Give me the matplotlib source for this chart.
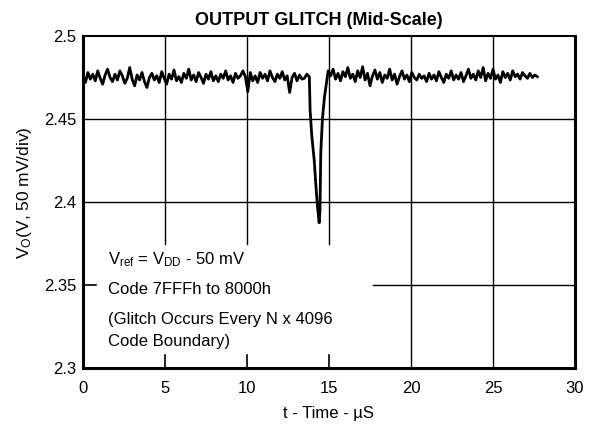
import matplotlib
matplotlib.use("Agg")
import matplotlib.pyplot as plt
import matplotlib.transforms as mtransforms
import numpy as np

plt.rcParams['font.family'] = ['Liberation Sans', 'DejaVu Sans']
plt.rcParams['mathtext.default'] = 'regular'

# trace sampled every 0.15 us before and after the glitch
step = 0.15
pre_v = [
    2.4760, 2.4720, 2.4780, 2.4740, 2.4770, 2.4730, 2.4790, 2.4745, 2.4710, 2.4765,
    2.4800, 2.4750, 2.4725, 2.4770, 2.4735, 2.4790, 2.4760, 2.4715, 2.4745, 2.4810,
    2.4740, 2.4700, 2.4765, 2.4735, 2.4780, 2.4725, 2.4690, 2.4750, 2.4775, 2.4735,
    2.4760, 2.4720, 2.4785, 2.4745, 2.4710, 2.4770, 2.4740, 2.4795, 2.4730, 2.4755,
    2.4720, 2.4775, 2.4745, 2.4800, 2.4735, 2.4765, 2.4725, 2.4780, 2.4750, 2.4715,
    2.4770, 2.4740, 2.4785, 2.4730, 2.4760, 2.4725, 2.4770, 2.4745, 2.4790, 2.4735,
    2.4760, 2.4720, 2.4775, 2.4745, 2.4760, 2.4790, 2.4755, 2.4665, 2.4780, 2.4730,
    2.4760, 2.4720, 2.4780, 2.4745, 2.4770, 2.4730, 2.4790, 2.4750, 2.4725, 2.4770,
    2.4745, 2.4785, 2.4735, 2.4760, 2.4660, 2.4750, 2.4775, 2.4730, 2.4765, 2.4740,
    2.4745, 2.4770, 2.4755,
]
glitch_t = [13.85, 13.95, 14.1, 14.2, 14.3, 14.4, 14.45, 14.5, 14.6, 14.72, 14.85]
glitch_v = [2.4550, 2.4400, 2.4250, 2.4100, 2.3970, 2.3875, 2.3950, 2.4300, 2.4500, 2.4630, 2.4720]
post_start = 14.95
post_v = [
    2.4790, 2.4760, 2.4800, 2.4740, 2.4775, 2.4730, 2.4785, 2.4755, 2.4810, 2.4745,
    2.4770, 2.4725, 2.4790, 2.4750, 2.4815, 2.4735, 2.4775, 2.4700, 2.4760, 2.4795,
    2.4740, 2.4780, 2.4720, 2.4765, 2.4745, 2.4800, 2.4735, 2.4770, 2.4710, 2.4755,
    2.4790, 2.4740, 2.4765, 2.4725, 2.4780, 2.4750, 2.4735, 2.4770, 2.4745, 2.4760,
    2.4725, 2.4775, 2.4740, 2.4765, 2.4730, 2.4785, 2.4750, 2.4720, 2.4770, 2.4745,
    2.4790, 2.4735, 2.4765, 2.4740, 2.4780, 2.4725, 2.4760, 2.4800, 2.4745, 2.4770,
    2.4735, 2.4790, 2.4750, 2.4810, 2.4730, 2.4775, 2.4745, 2.4800, 2.4740, 2.4765,
    2.4720, 2.4785, 2.4750, 2.4775, 2.4735, 2.4790, 2.4755, 2.4770, 2.4740, 2.4780,
    2.4760, 2.4745, 2.4775, 2.4750, 2.4765, 2.4755,
]

x_ticks = [0, 5, 10, 15, 20, 25, 30]
y_ticks = [2.3, 2.35, 2.4, 2.45, 2.5]
y_tick_labels = ["2.3", "2.35", "2.4", "2.45", "2.5"]

pre_t = np.arange(len(pre_v)) * step
post_t = post_start + np.arange(len(post_v)) * step
t = np.concatenate([pre_t, glitch_t, post_t])
v = np.concatenate([pre_v, glitch_v, post_v])

fig = plt.figure(figsize=(6.03, 4.25), dpi=100)
ax = fig.add_axes([0.1376, 0.1341, 0.8160, 0.7812])
ax.set_xlim(0, 30)
ax.set_ylim(2.3, 2.5)

# grid, leaving the note area clear; short inward ticks where it is cut
box_right = 17.7
box_top = 2.375
xtick_tr = mtransforms.blended_transform_factory(ax.transData, ax.transAxes)
ytick_tr = mtransforms.blended_transform_factory(ax.transAxes, ax.transData)
for xv in [5, 10, 15, 20, 25]:
    y0 = box_top if xv < box_right else 2.3
    ax.plot([xv, xv], [y0, 2.5], color='black', lw=1.0, zorder=1)
    if xv < box_right:
        ax.plot([xv, xv], [0, 0.04], color='black', lw=1.2, zorder=4,
                transform=xtick_tr, clip_on=False)
for yv in [2.35, 2.4, 2.45]:
    x0 = box_right if yv < box_top else 0
    ax.plot([x0, 30], [yv, yv], color='black', lw=1.0, zorder=1)
    if yv < box_top:
        ax.plot([0, 0.027], [yv, yv], color='black', lw=1.2, zorder=4,
                transform=ytick_tr, clip_on=False)

ax.plot(t, v, color='black', lw=2.0, zorder=3)

ax.set_xticks(x_ticks)
ax.set_yticks(y_ticks)
ax.set_yticklabels(y_tick_labels)
ax.tick_params(direction='in', length=0, labelsize=12, colors='black')
ax.tick_params(axis='x', pad=9)
ax.tick_params(axis='y', pad=5)
for s in ax.spines.values():
    s.set_linewidth(2.2)
ax.spines['top'].set_linewidth(1.5)

note_x = 1.5
ax.text(note_x, 2.365, "V$_{ref}$ = V$_{DD}$ - 50 mV", fontsize=12, va='center')
ax.text(note_x, 2.347, "Code 7FFFh to 8000h", fontsize=12, va='center')
ax.text(note_x, 2.329, "(Glitch Occurs Every N x 4096", fontsize=12, va='center')
ax.text(note_x, 2.316, "Code Boundary)", fontsize=12, va='center')

fig.text(0.529, 0.941, "OUTPUT GLITCH (Mid-Scale)", fontsize=13, fontweight='bold',
         ha='center', va='baseline')
fig.text(0.544, 0.028, "t - Time - \u00b5S", fontsize=12, ha='center', va='center')
fig.text(0.041, 0.547, "V$_O$(V, 50 mV/div)", fontsize=12.5, ha='center', va='center',
         rotation=90)

fig.savefig("out.png", dpi=100)
